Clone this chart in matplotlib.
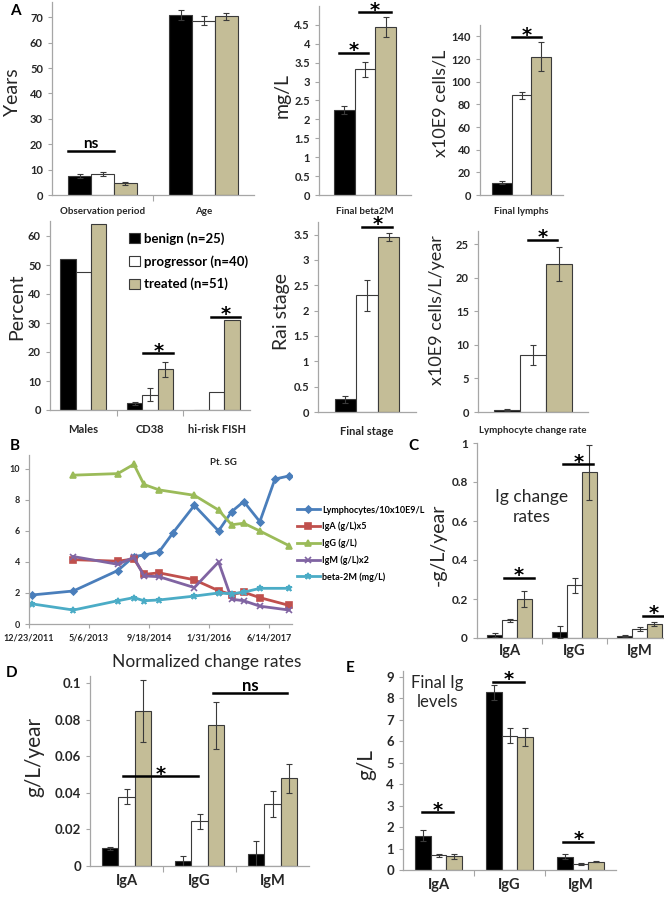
import matplotlib
matplotlib.use('Agg')
import matplotlib.pyplot as plt
import numpy as np
import pandas as pd

plt.rcParams['font.family'] = ['Lato', 'DejaVu Sans']

W, H = 664, 898
groups = ['benign (n=25)', 'progressor (n=40)', 'treated (n=51)']
bar_colors = ['black', 'white', '#c4bd97']

# ---- panel A data (benign, progressor, treated) ----
obs_cats = ['Observation period', 'Age']
obs_vals = [[7.5, 71.0], [8.3, 68.7], [4.7, 70.3]]
obs_err = [[0.8, 2.0], [0.7, 1.8], [0.6, 1.2]]

b2m_cats = ['Final beta2M']
b2m_vals = [[2.25], [3.33], [4.45]]
b2m_err = [[0.1], [0.2], [0.27]]

lymph_cats = ['Final lymphs']
lymph_vals = [[11], [88], [122]]
lymph_err = [[1], [3], [13]]

pct_cats = ['Males', 'CD38', 'hi-risk FISH']
pct_vals = [[52, 2.3, 0], [47.5, 5.3, 6.2], [64, 14, 31]]
pct_err = [[0, 0.5, 0], [0, 2.3, 0], [0, 2.5, 0]]

rai_cats = ['Final stage']
rai_vals = [[0.25], [2.3], [3.45]]
rai_err = [[0.07], [0.3], [0.08]]

lrate_cats = ['Lymphocyte change rate']
lrate_vals = [[0.3], [8.5], [22]]
lrate_err = [[0.15], [1.5], [2.5]]

# ---- panel B data ----
dates_lym = ['2012-01-15', '2012-12-27', '2014-01-01', '2014-05-15', '2014-08-07',
             '2014-12-11', '2015-04-08', '2015-10-01', '2016-04-20', '2016-08-07',
             '2016-11-16', '2017-03-30', '2017-08-03', '2017-11-29']
lymphocytes = [1.87, 2.13, 3.45, 4.35, 4.45, 4.65, 5.9, 7.65, 6.0, 7.25, 7.9, 6.6, 9.35, 9.55]
dates_ig = ['2012-12-27', '2014-01-01', '2014-05-15', '2014-08-07', '2014-12-11',
            '2015-10-01', '2016-04-20', '2016-08-07', '2016-11-16', '2017-03-30', '2017-11-29']
iga = [4.15, 4.05, 4.2, 3.2, 3.3, 2.85, 2.15, 1.9, 2.05, 1.7, 1.2]
igg = [9.6, 9.7, 10.3, 9.0, 8.65, 8.3, 7.35, 6.4, 6.5, 6.0, 5.05]
igm = [4.35, 3.85, 4.3, 3.1, 3.05, 2.35, 4.0, 1.6, 1.5, 1.15, 0.9]
dates_b2m = ['2012-01-15'] + dates_ig
beta2m = [1.3, 0.9, 1.5, 1.7, 1.5, 1.55, 1.8, 2.0, 1.95, 2.05, 2.3, 2.3]
b_ticks = ['2011-12-23', '2013-05-06', '2014-09-18', '2016-01-31', '2017-06-14']
b_ticklabels = ['12/23/2011', '5/6/2013', '9/18/2014', '1/31/2016', '6/14/2017']

# ---- panels C, D, E ----
ig_cats = ['IgA', 'IgG', 'IgM']
c_vals = [[0.015, 0.03, 0.01], [0.09, 0.27, 0.045], [0.2, 0.85, 0.07]]
c_err = [[0.012, 0.03, 0.005], [0.01, 0.04, 0.01], [0.04, 0.14, 0.01]]
d_vals = [[0.0098, 0.0025, 0.0065], [0.038, 0.0245, 0.034], [0.085, 0.077, 0.048]]
d_err = [[0.0008, 0.003, 0.0072], [0.004, 0.004, 0.007], [0.017, 0.013, 0.008]]
e_vals = [[1.6, 8.3, 0.62], [0.68, 6.25, 0.27], [0.63, 6.2, 0.38]]
e_err = [[0.25, 0.35, 0.12], [0.08, 0.35, 0.04], [0.12, 0.4, 0.02]]

fig = plt.figure(figsize=(W / 100, H / 100), dpi=100)
SPINE = '#a6a6a6'
TXT = '#262626'


def px_axes(left, top, right, bottom):
    return fig.add_axes([left / W, 1 - bottom / H, (right - left) / W, (bottom - top) / H])


def style(ax, tick_fs):
    for s in ['top', 'right']:
        ax.spines[s].set_visible(False)
    for s in ['left', 'bottom']:
        ax.spines[s].set_color(SPINE)
        ax.spines[s].set_linewidth(0.9)
    ax.tick_params(axis='y', colors=SPINE, labelcolor=TXT, labelsize=tick_fs, length=3, width=0.8)
    for lab in ax.get_yticklabels():
        lab.set_fontweight('bold')


def bar_panel(rect, cats, vals, errs, ylim, yticks, yfmt, width, tick_fs, cat_fs, cat_pad):
    ax = px_axes(*rect)
    n = len(cats)
    x = np.arange(n)
    for g in range(3):
        xs = x + (g - 1) * width
        ax.bar(xs, vals[g], width, color=bar_colors[g], edgecolor='#3a3a3a', linewidth=0.8, zorder=2)
        for xi, v, e in zip(xs, vals[g], errs[g]):
            if e > 0:
                ax.errorbar(xi, v, yerr=e, fmt='none', ecolor='#3a3a3a', elinewidth=0.8,
                            capsize=2, capthick=0.8, zorder=3)
    ax.set_xlim(-0.5, n - 0.5)
    ax.set_ylim(*ylim)
    ax.set_yticks(yticks)
    ax.set_yticklabels([yfmt(t) for t in yticks])
    ax.set_xticks(x)
    ax.set_xticklabels(cats, fontsize=cat_fs, fontweight='bold', color=TXT)
    ax.set_xticks(np.arange(0.5, n - 0.5, 1), minor=True)
    ax.tick_params(axis='x', which='major', length=0, pad=cat_pad)
    ax.tick_params(axis='x', which='minor', length=4, color=SPINE, width=0.8)
    style(ax, tick_fs)
    return ax


def sig(ax, x0, x1, y, txt='*', fs=14, off=-2.5):
    ax.plot([x0, x1], [y, y], color='black', lw=1.8, clip_on=False, zorder=4)
    fam = 'DejaVu Sans' if txt == '*' else None
    ax.annotate(txt, xy=((x0 + x1) / 2, y), xytext=(0, off), textcoords='offset points',
                ha='center', va='baseline', fontsize=fs, fontweight='bold', family=fam,
                annotation_clip=False, zorder=4)


def fmt_int(t):
    return '%d' % t


def fmt_g(t):
    return ('%g' % t)

# Panel A row 1
a1 = bar_panel((52, 2, 254, 195), obs_cats, obs_vals, obs_err, (0, 76), range(0, 71, 10),
               fmt_int, 0.225, 8, 7, 9)
sig(a1, -0.34, 0.11, 17.5, 'ns', fs=11, off=2)
a2 = bar_panel((319, 6, 411, 195), b2m_cats, b2m_vals, b2m_err, (0, 5.0), np.arange(0, 4.6, 0.5),
               fmt_g, 0.225, 8, 7, 9)
sig(a2, -0.28, 0.03, 3.76)
sig(a2, -0.07, 0.28, 4.84)
a3 = bar_panel((480, 25, 563, 195), lymph_cats, lymph_vals, lymph_err, (0, 150), range(0, 141, 20),
               fmt_int, 0.24, 8, 7, 9)
sig(a3, -0.12, 0.24, 139)

# Panel A row 2
a4 = bar_panel((50, 221.5, 250, 410), pct_cats, pct_vals, pct_err, (0, 65), range(0, 61, 10),
               fmt_int, 0.23, 8, 8, 10)
sig(a4, 0.9, 1.35, 19.6)
sig(a4, 1.91, 2.35, 32.2)
handles = [plt.Rectangle((0, 0), 1, 1, facecolor=c, edgecolor='#3a3a3a', linewidth=0.8)
           for c in bar_colors]
a4.legend(handles, groups, loc='upper left', bbox_to_anchor=(0.37, 0.97), frameon=False,
          prop={'size': 9.5, 'weight': 'bold'}, handlelength=0.8, handleheight=0.8,
          handletextpad=0.3, labelspacing=0.75, borderaxespad=0)
a5 = bar_panel((318, 222, 416, 412), rai_cats, rai_vals, rai_err, (0, 3.75), np.arange(0, 3.6, 0.5),
               fmt_g, 0.22, 8, 8, 10)
sig(a5, -0.05, 0.26, 3.66)
a6 = bar_panel((478, 230.6, 588, 412), lrate_cats, lrate_vals, lrate_err, (0, 27), range(0, 26, 5),
               fmt_int, 0.235, 8, 7, 10)
sig(a6, -0.05, 0.22, 25.6)

# Panel B
ab = px_axes(29, 455, 292, 624)
series = [
    (dates_lym, lymphocytes, 'Lymphocytes/10x10E9/L', '#4a7ebb', 'D', 3.5),
    (dates_ig, iga, 'IgA (g/L)x5', '#c0504d', 's', 5),
    (dates_ig, igg, 'IgG (g/L)', '#9bbb59', '^', 5),
    (dates_ig, igm, 'IgM (g/L)x2', '#8064a2', 'x', 5),
    (dates_b2m, beta2m, 'beta-2M (mg/L)', '#4bacc6', '*', 5),
]
for d, v, lab, c, m, ms in series:
    ab.plot(pd.to_datetime(d), v, color=c, marker=m, markersize=ms, lw=2, label=lab,
            markeredgewidth=1.2)
ab.set_xlim(pd.Timestamp('2011-12-23'), pd.Timestamp('2017-12-23'))
ab.set_ylim(0, 10.9)
ab.set_yticks(range(0, 11, 2))
ab.set_xticks(pd.to_datetime(b_ticks))
ab.set_xticklabels(b_ticklabels, fontsize=6.5, fontweight='bold', color=TXT)
ab.tick_params(axis='x', colors=SPINE, labelcolor=TXT, length=3, width=0.8)
style(ab, 6.5)
ab.text(0.74, 0.98, 'Pt. SG', transform=ab.transAxes, fontsize=7, fontweight='bold',
        ha='center', va='top', color=TXT)
fig.legend(loc='upper left', bbox_to_anchor=(293 / W, 1 - 502 / H), frameon=False,
           prop={'size': 6.5, 'weight': 'bold'}, handlelength=2.6, handletextpad=0.2,
           labelspacing=0.8, borderaxespad=0)

# Panel C
ac = bar_panel((477, 443, 664, 638), ig_cats, c_vals, c_err, (0, 1.0), np.arange(0, 1.01, 0.2),
               fmt_g, 0.23, 8.5, 10.5, 4)
ac.set_xlim(-0.5, -0.5 + 187 / 65)
sig(ac, -0.09, 0.37, 0.31)
sig(ac, -0.17 + 1, 0.29 + 1, 0.89)
sig(ac, 0.05 + 2, 0.40 + 2, 0.113)
ac.text(0.29, 0.67, 'Ig change\nrates', transform=ac.transAxes, fontsize=12.5,
        ha='center', va='center', color=TXT, linespacing=1.3)

# Panel D
ad = bar_panel((90, 676, 309, 866), ig_cats, d_vals, d_err, (0, 0.104), np.arange(0, 0.101, 0.02),
               fmt_g, 0.22, 9.5, 10.5, 6)
sig(ad, -0.05, 0.98, 0.049)
sig(ad, 1.18, 2.2, 0.0945, 'ns', fs=12, off=2)
fig.text(207 / W, 1 - 662 / H, 'Normalized change rates', fontsize=12.5, ha='center',
         va='center', color=TXT)

# Panel E
ae = bar_panel((403, 670.6, 616, 870), ig_cats, e_vals, e_err, (0, 9.3), range(0, 10),
               fmt_int, 0.225, 9.5, 10.5, 6)
sig(ae, -0.23, 0.2, 2.7)
sig(ae, 0.77, 1.2, 8.77)
sig(ae, 1.76, 2.18, 1.32)
ae.text(0.16, 0.89, 'Final Ig\nlevels', transform=ae.transAxes, fontsize=12,
        ha='center', va='center', color=TXT, linespacing=1.3)

# y labels
ylabels = [
    ('Years', 13, 92, 14), ('mg/L', 282, 95, 14), ('x10E9 cells/L', 440, 103, 13),
    ('Percent', 17, 307, 14), ('Rai stage', 281, 312, 14), ('x10E9 cells/L/year', 437, 310, 13),
    ('-g/L/year', 438, 545, 14), ('g/L/year', 34, 757, 15), ('g/L', 366, 765, 15),
]
for txt, x, y, fs in ylabels:
    fig.text(x / W, 1 - y / H, txt, rotation=90, ha='center', va='center', fontsize=fs, color=TXT)

# panel letters
letters = [('A', 15, 11), ('B', 15, 446), ('C', 413, 446), ('D', 12, 673), ('E', 350, 668)]
for txt, x, y in letters:
    fig.text(x / W, 1 - y / H, txt, ha='center', va='center', fontsize=11, fontweight='bold',
             color='black')

fig.savefig('out.png', dpi=100)
